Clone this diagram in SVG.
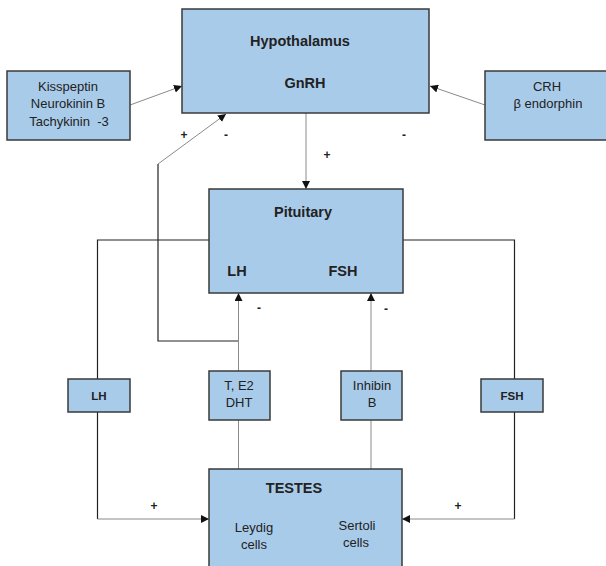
<svg xmlns="http://www.w3.org/2000/svg" width="606" height="566" viewBox="0 0 606 566">
<style>
.box{fill:#a9cbea;stroke:#3a3a3a;stroke-width:1.5}
.t{font-family:"Liberation Sans",Arial,sans-serif;font-size:13px;fill:#222;text-anchor:middle}
.b{font-family:"Liberation Sans",Arial,sans-serif;font-weight:bold;font-size:14.5px;fill:#222;text-anchor:middle}
.sb{font-family:"Liberation Sans",Arial,sans-serif;font-weight:bold;font-size:11.5px;fill:#222;text-anchor:middle}
.sg{font-family:"Liberation Sans",Arial,sans-serif;font-weight:bold;font-size:12px;fill:#222;text-anchor:middle}
.dk{fill:none;stroke:#222;stroke-width:1.2}
.lt{fill:none;stroke:#8a8a8a;stroke-width:1}
</style>
<defs>
<marker id="ah" viewBox="0 0 10 10" refX="10" refY="5" markerWidth="8" markerHeight="8" markerUnits="userSpaceOnUse" orient="auto">
<path d="M0,0 L10,5 L0,10 Z" fill="#111"/>
</marker>
</defs>
<g id="connectors">
<line class="lt" x1="130" y1="105" x2="182" y2="86" marker-end="url(#ah)"/>
<line class="lt" x1="485" y1="105" x2="430" y2="86" marker-end="url(#ah)"/>
<line class="lt" x1="306" y1="113" x2="306" y2="189" marker-end="url(#ah)"/>
<polyline class="dk" points="238,341 158,341 158,164"/>
<line class="lt" x1="158" y1="164" x2="226" y2="114" marker-end="url(#ah)"/>
<polyline class="dk" points="209,240 97.5,240 97.5,379"/>
<polyline class="dk" points="403,240 514.5,240 514.5,379"/>
<polyline class="dk" points="97.5,412 97.5,519"/>
<line class="lt" x1="97.5" y1="519" x2="209" y2="519" marker-end="url(#ah)"/>
<polyline class="dk" points="514.5,412 514.5,519"/>
<line class="lt" x1="514.5" y1="519" x2="402" y2="519" marker-end="url(#ah)"/>
<line class="lt" x1="238.5" y1="469" x2="238.5" y2="420"/>
<line class="lt" x1="238.5" y1="371" x2="238.5" y2="293" marker-end="url(#ah)"/>
<line class="lt" x1="371" y1="469" x2="371" y2="420"/>
<line class="lt" x1="371" y1="371" x2="371" y2="293" marker-end="url(#ah)"/>
<text class="sg" x="184" y="139">+</text>
<text class="sg" x="226" y="139">-</text>
<text class="sg" x="404" y="139">-</text>
<text class="sg" x="327" y="159">+</text>
<text class="sg" x="259" y="312">-</text>
<text class="sg" x="386" y="313">-</text>
<text class="sg" x="154" y="510">+</text>
<text class="sg" x="458" y="510">+</text>
</g>
<g id="hypothalamus">
<rect class="box" x="182" y="9" width="247" height="104"/>
<text class="b" x="300" y="46">Hypothalamus</text>
<text class="b" x="305" y="88">GnRH</text>
</g>
<g id="kisspeptin">
<rect class="box" x="7" y="71" width="123" height="69"/>
<text class="t" x="68" y="91">Kisspeptin</text>
<text class="t" x="68" y="108">Neurokinin B</text>
<text class="t" x="69" y="126" xml:space="preserve">Tachykinin  -3</text>
</g>
<g id="crh">
<rect class="box" x="485" y="71" width="125" height="69"/>
<text class="t" x="547" y="91">CRH</text>
<text class="t" x="548" y="108">β endorphin</text>
</g>
<g id="pituitary">
<rect class="box" x="209" y="189" width="194" height="104"/>
<text class="b" x="303" y="217">Pituitary</text>
<text class="b" x="237" y="276">LH</text>
<text class="b" x="343" y="276">FSH</text>
</g>
<g id="lh">
<rect class="box" x="68" y="379" width="62" height="33"/>
<text class="sb" x="99" y="400">LH</text>
</g>
<g id="te2dht">
<rect class="box" x="209" y="371" width="61" height="49"/>
<text class="t" x="239" y="390">T, E2</text>
<text class="t" x="239" y="407">DHT</text>
</g>
<g id="inhibin">
<rect class="box" x="341" y="371" width="61" height="49"/>
<text class="t" x="372" y="390">Inhibin</text>
<text class="t" x="372" y="407">B</text>
</g>
<g id="fsh">
<rect class="box" x="481" y="379" width="62" height="33"/>
<text class="sb" x="512" y="400">FSH</text>
</g>
<g id="testes">
<rect class="box" x="209" y="469" width="193" height="110"/>
<text class="b" x="294" y="493">TESTES</text>
<text class="t" x="254" y="532">Leydig</text>
<text class="t" x="254" y="549">cells</text>
<text class="t" x="357" y="530">Sertoli</text>
<text class="t" x="356" y="547">cells</text>
</g>
</svg>
